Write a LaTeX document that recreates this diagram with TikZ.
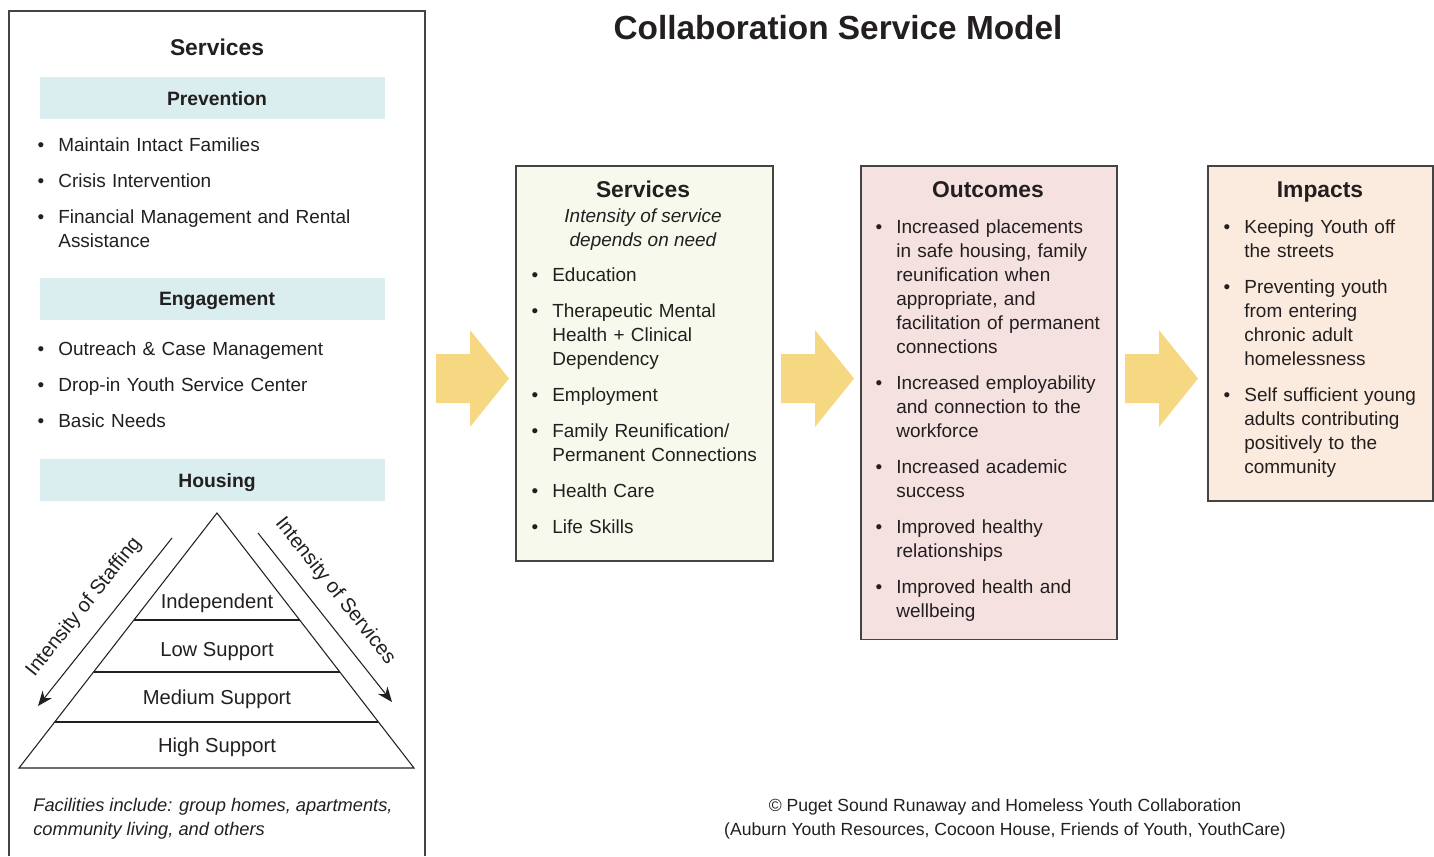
\documentclass[tikz,border=0pt]{standalone}
\usepackage{fontspec}
\setmainfont{Liberation Sans}
\usepackage{tikz}
\usetikzlibrary{calc,positioning,arrows.meta}

\definecolor{ink}{HTML}{231F20}
\definecolor{edge}{HTML}{444444}
\definecolor{bandblue}{HTML}{DAEDEF}
\definecolor{svcfill}{HTML}{F7F9EC}
\definecolor{outfill}{HTML}{F6E1E1}
\definecolor{impfill}{HTML}{FBEBDF}
\definecolor{flowyellow}{HTML}{F6D883}

\newcommand{\bodyfont}{\fontsize{10.8}{13.66}\selectfont}
\newcommand{\headfont}{\fontsize{13}{15}\selectfont\bfseries}
\newcommand{\bandfont}{\fontsize{11}{13}\selectfont\bfseries}
\newcommand{\tierfont}{\fontsize{11.5}{13.66}\selectfont}
\newcommand{\notefont}{\fontsize{10}{13.66}\selectfont}
\newcommand{\bul}{\llap{\textbullet\hspace{0.28cm}}}

\begin{document}
\begin{tikzpicture}
	[x=0.02cm,y=-0.02cm,
	every node/.style={inner sep=0pt,text=ink},
	item/.style={anchor=base west,align=left,text width=4.6cm,font=\bodyfont},
	band/.style={fill=bandblue,minimum width=6.9cm,minimum height=0.84cm,font=\bandfont,
		text depth=0pt,execute at begin node=\hspace*{0.18cm}},
	head/.style={font=\headfont,anchor=base},
	box/.style={draw=edge,line width=0.9pt,anchor=north west},
	tri/.style={draw=ink,line width=0.6pt},
	scalearrow/.style={draw=ink,line width=0.6pt,-{Stealth[length=0.3cm,width=0.24cm]}},
	tier/.style={font=\tierfont}]
	\useasboundingbox (0,0) rectangle (1434,856);
	
	% title
	\node[font=\fontsize{19}{22}\selectfont\bfseries] (title) at (838,28) {Collaboration Service Model};
	
	% left column
	\draw[draw=edge,line width=0.9pt] (9,856) |- (425,11) -- (425,856);
	\node[head] (svcleft) at (217,55) {Services};
	\node[band] (prev) at (212.5,98) {Prevention};
	\foreach \y/\t in {151/Maintain Intact Families,187/Crisis Intervention,
		223/{Financial Management and Rental\\Assistance}}
	\node[item,text width=7cm] (prev-\y) at (58,\y) {\bul\t};
	\node[band] (engage) at (212.5,299) {Engagement};
	\foreach \y/\t in {355/Outreach \& Case Management,391/Drop-in Youth Service Center,
		427/Basic Needs}
	\node[item,text width=7cm] (engage-\y) at (58,\y) {\bul\t};
	\node[band] (housing) at (212.5,480) {Housing};
	
	% pyramid
	\coordinate (apex) at (217,513);
	\coordinate (bl) at (19,768);
	\coordinate (br) at (414,768);
	\draw[tri] (apex) -- (bl) -- (br) -- cycle;
	\foreach \t in {0.4196,0.6235,0.8196}
	\draw[tri] ($(apex)!\t!(bl)$) -- ($(apex)!\t!(br)$);
	\node[tier] (indep) at (217,603.5) {Independent};
	\node[tier] (low) at (217,651.5) {Low Support};
	\node[tier] (medium) at (217,699.5) {Medium Support};
	\node[tier] (high) at (217,747.5) {High Support};
	
	\coordinate (staff-a) at (172,538);
	\coordinate (staff-b) at (38,706);
	\draw[scalearrow] (staff-a) -- (staff-b);
	\node[tier,rotate=51.4] (staff) at (84,607) {Intensity of Staffing};
	\coordinate (serv-a) at (258,533);
	\coordinate (serv-b) at (392,702);
	\draw[scalearrow] (serv-a) -- (serv-b);
	\node[tier,rotate=-51.6] (serv) at (335,591) {Intensity of Services};
	
	\node[anchor=west,align=left,font=\fontsize{10.4}{13.66}\selectfont\itshape] (facil) at (33,819)
	{Facilities include: group homes, apartments,\\community living, and others};
	
	% flow arrows
	\foreach \s in {436,781,1125}
	\fill[flowyellow] (\s,354) -- ++(34,0) -- ++(0,-24) -- ++(39,48.5)
	-- ++(-39,48.5) -- ++(0,-24) -- ++(-34,0) -- cycle;
	
	% services box
	\node[box,fill=svcfill,minimum width=5.14cm,minimum height=7.9cm] (svcbox) at (515,165) {};
	\node[head] (svchead) at (643,197) {Services};
	\node[align=center,font=\bodyfont\itshape] (svcsub) at (643,230)
	{Intensity of service\\depends on need};
	\foreach \y/\t in {281/Education,317/{Therapeutic Mental\\Health + Clinical\\Dependency},
		401/Employment,437/{Family Reunification/\\Permanent Connections},
		497/Health Care,533/Life Skills}
	\node[item] (svc-\y) at (552,\y) {\bul\t};
	
	% outcomes box
	\node[box,fill=outfill,minimum width=5.12cm,minimum height=9.48cm] (outbox) at (860,165) {};
	\node[head] (outhead) at (988,197) {Outcomes};
	\foreach \y/\t in {233/{Increased placements\\in safe housing, family\\reunification when\\appropriate, and\\facilitation of permanent\\connections},
		389/{Increased employability\\and connection to the\\workforce},
		473/{Increased academic\\success},
		533/{Improved healthy\\relationships},
		593/{Improved health and\\wellbeing}}
	\node[item] (out-\y) at (896,\y) {\bul\t};
	
	% impacts box
	\node[box,fill=impfill,minimum width=4.5cm,minimum height=6.7cm] (impbox) at (1207,165) {};
	\node[head] (imphead) at (1320,197) {Impacts};
	\foreach \y/\t in {233/{Keeping Youth off\\the streets},
		293/{Preventing youth\\from entering\\chronic adult\\homelessness},
		401/{Self sufficient young\\adults contributing\\positively to the\\community}}
	\node[item] (imp-\y) at (1244,\y) {\bul\t};
	
	% credit
	\node[align=center,font=\notefont] (credit) at (1005,819)
	{© Puget Sound Runaway and Homeless Youth Collaboration\\(Auburn Youth Resources, Cocoon House, Friends of Youth, YouthCare)};
\end{tikzpicture}
\end{document}
